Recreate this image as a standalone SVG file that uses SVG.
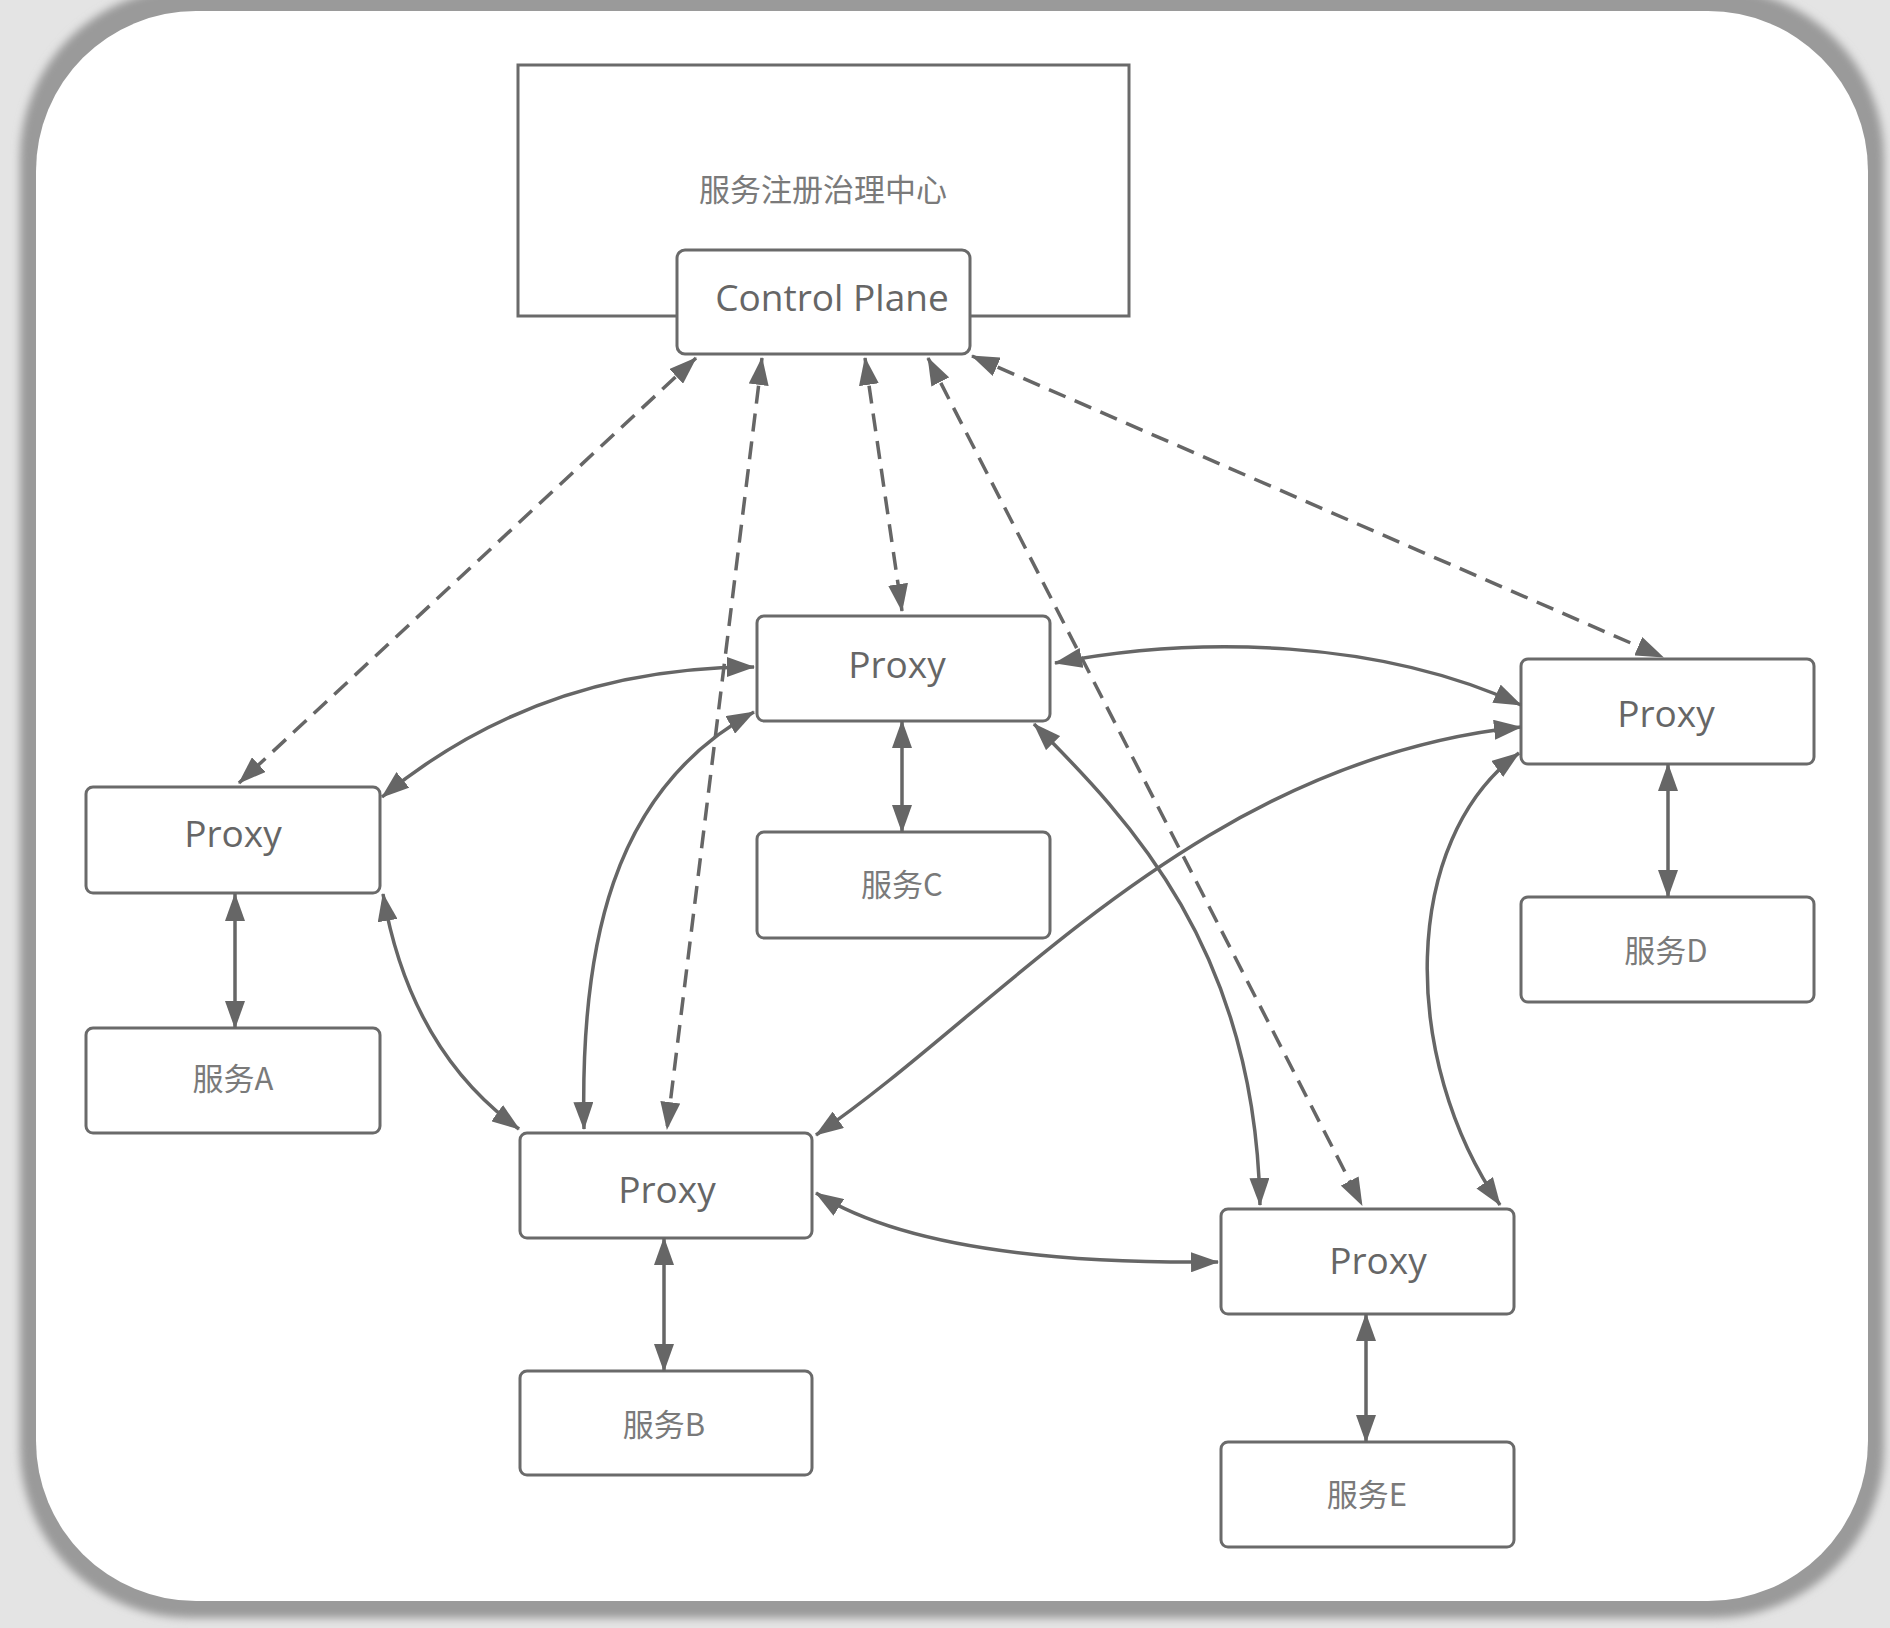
<svg xmlns="http://www.w3.org/2000/svg" width="1890" height="1628" viewBox="0 0 1890 1628">
<style>
.box{fill:#fff;stroke:#6a6a6a;stroke-width:3}
.lbl{font-family:"Open Sans","Liberation Sans",sans-serif;font-size:37px;fill:#666;text-anchor:middle}
.cjk{font-family:"Noto Sans CJK SC","Noto Sans",sans-serif;font-size:31px;fill:#7a7a7a;text-anchor:middle}
.ln{fill:none;stroke:#666;stroke-width:3.5;marker-start:url(#ah);marker-end:url(#ah)}
.dash{stroke-dasharray:18 10}
</style>
<defs>
<marker id="ah" viewBox="0 0 28 20" refX="27" refY="10" markerWidth="28" markerHeight="20" markerUnits="userSpaceOnUse" orient="auto-start-reverse">
<path d="M0,0 L28,10 L0,20 Z" fill="#666" stroke="none"/>
</marker>
<filter id="sh" x="-5%" y="-5%" width="110%" height="110%">
<feGaussianBlur stdDeviation="4"/>
</filter>
</defs>
<rect x="0" y="0" width="1890" height="1628" fill="#e4e4e4"/>
<rect x="20" y="-12" width="1864" height="1630" rx="170" fill="#9a9a9a" filter="url(#sh)"/>
<rect x="36" y="11" width="1832" height="1590" rx="160" fill="#fff"/>

<g id="registry">
<rect x="518" y="65" width="611" height="251" fill="#fff" stroke="#6a6a6a" stroke-width="3"/>
<text class="cjk" x="823" y="201">服务注册治理中心</text>
</g>
<g id="control-plane">
<rect class="box" x="677" y="250" width="293" height="104" rx="8"/>
<text class="lbl" x="832" y="311">Control Plane</text>
</g>

<g id="proxy-c">
<rect class="box" x="757" y="616" width="293" height="105" rx="7"/>
<text class="lbl" x="897" y="678">Proxy</text>
</g>
<g id="service-c">
<rect class="box" x="757" y="832" width="293" height="106" rx="7"/>
<text class="cjk" x="902" y="896">服务C</text>
</g>
<g id="proxy-a">
<rect class="box" x="86" y="787" width="294" height="106" rx="7"/>
<text class="lbl" x="233" y="847">Proxy</text>
</g>
<g id="service-a">
<rect class="box" x="86" y="1028" width="294" height="105" rx="7"/>
<text class="cjk" x="233" y="1090">服务A</text>
</g>
<g id="proxy-b">
<rect class="box" x="520" y="1133" width="292" height="105" rx="7"/>
<text class="lbl" x="667" y="1203">Proxy</text>
</g>
<g id="service-b">
<rect class="box" x="520" y="1371" width="292" height="104" rx="7"/>
<text class="cjk" x="664" y="1436">服务B</text>
</g>
<g id="proxy-d">
<rect class="box" x="1521" y="659" width="293" height="105" rx="7"/>
<text class="lbl" x="1666" y="727">Proxy</text>
</g>
<g id="service-d">
<rect class="box" x="1521" y="897" width="293" height="105" rx="7"/>
<text class="cjk" x="1666" y="962">服务D</text>
</g>
<g id="proxy-e">
<rect class="box" x="1221" y="1209" width="293" height="105" rx="7"/>
<text class="lbl" x="1378" y="1274">Proxy</text>
</g>
<g id="service-e">
<rect class="box" x="1221" y="1442" width="293" height="105" rx="7"/>
<text class="cjk" x="1367" y="1506">服务E</text>
</g>

<g id="connectors">
<path class="ln dash" d="M696,358 L239,783"/>
<path class="ln dash" d="M762,358 L667,1129"/>
<path class="ln dash" d="M865,358 L902,611"/>
<path class="ln dash" d="M928,358 L1362,1205"/>
<path class="ln dash" d="M972,356 L1663,657"/>

<path class="ln" d="M382,797 Q540,667 754,667"/>
<path class="ln" d="M584,1129 C580,950 610,790 754,712"/>
<path class="ln" d="M383,894 Q410,1050 519,1129"/>
<path class="ln" d="M1055,663 C1200,635 1380,640 1521,705"/>
<path class="ln" d="M816,1135 C1000,1010 1200,760 1521,727"/>
<path class="ln" d="M1034,724 C1130,820 1255,950 1260,1205"/>
<path class="ln" d="M1519,753 C1400,840 1400,1060 1500,1205"/>
<path class="ln" d="M816,1193 Q930,1265 1218,1262"/>

<path class="ln" d="M235,894 L235,1028"/>
<path class="ln" d="M664,1238 L664,1371"/>
<path class="ln" d="M902,721 L902,832"/>
<path class="ln" d="M1668,764 L1668,897"/>
<path class="ln" d="M1366,1314 L1366,1442"/>
</g>
</svg>
